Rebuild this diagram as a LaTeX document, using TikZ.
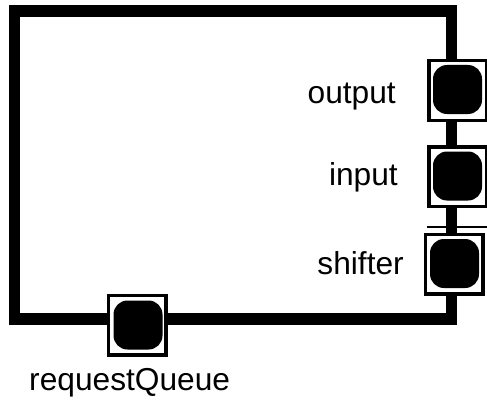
\documentclass[tikz,border=0pt]{standalone}
\usepackage{fontspec}
\setmainfont{Liberation Sans}
\begin{document}
\begin{tikzpicture}[x=1pt,y=-1pt,
  frame/.style={draw=black,line width=11.5pt},
  portbox/.style={draw=black,fill=white,line width=3.5pt,minimum width=57.5pt,minimum height=59.5pt,inner sep=0pt},
  portdot/.style={fill=black,rounded corners=14pt,minimum size=49pt,inner sep=0pt},
  lbl/.style={font=\fontsize{31.7}{38}\selectfont,inner sep=0pt}]
\useasboundingbox (0,0) rectangle (487,404);
\begin{scope}
\clip (0,0) rectangle (487,404);
\draw[frame] (14.5,11) rectangle (451.5,319);
\coordinate (tl) at (427,227);
\coordinate (tr) at (490,227);
\draw[line width=2pt] (tl) -- (tr);
\node[portbox] (outbox) at (457.5,90.5) {};
\node[portdot] (outdot) at (457.5,89.5) {};
\node[portbox] (inbox) at (457.5,176.5) {};
\node[portdot] (indot) at (457.5,176) {};
\node[portbox] (shbox) at (454,264) {};
\node[portdot] (shdot) at (454.5,263.5) {};
\node[portbox] (rqbox) at (137,325) {};
\node[portdot] (rqdot) at (138,325) {};
\end{scope}
\node[lbl,anchor=base east] (outlbl) at (396,103.5) {output};
\node[lbl,anchor=base east] (inlbl) at (398,185.7) {input};
\node[lbl,anchor=base east] (shlbl) at (404,274.5) {shifter};
\node[lbl,anchor=base west] (rqlbl) at (29,390.7) {requestQueue};
\end{tikzpicture}
\end{document}
